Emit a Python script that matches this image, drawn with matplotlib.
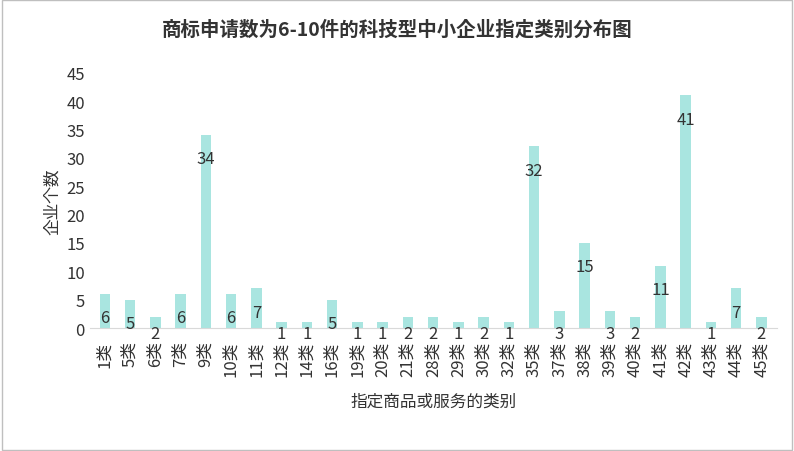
import matplotlib
matplotlib.use("Agg")
import matplotlib.pyplot as plt
from matplotlib.patches import Rectangle
from matplotlib import font_manager

names = {f.name for f in font_manager.fontManager.ttflist}
cands = [n for n in ["Noto Sans CJK SC", "Noto Sans CJK JP", "Noto Sans CJK TC", "Noto Sans CJK KR", "Noto Sans CJK"] if n in names]
if not cands:
    cands = [f.name for f in font_manager.fontManager.ttflist if "CJK" in f.name][:1]
plt.rcParams['font.family'] = cands + ['DejaVu Sans']

categories = ["1类","5类","6类","7类","9类","10类","11类","12类","14类","16类","19类","20类","21类","28类",
              "29类","30类","32类","35类","37类","38类","39类","40类","41类","42类","43类","44类","45类"]
values = [6,5,2,6,34,6,7,1,1,5,1,1,2,2,1,2,1,32,3,15,3,2,11,41,1,7,2]

fig = plt.figure(figsize=(7.94,4.52), dpi=100)
ax = fig.add_axes([0.113, 0.272, 0.865, 0.565])
x = range(len(categories))
ax.bar(x, values, width=0.42, color='#A9E5E0')
for i, v in zip(x, values):
    ax.text(i, max(v - 4.2, -0.9), str(v), ha='center', va='center', fontsize=12, color='#333333')
ax.set_ylim(0, 45)
ax.set_yticks(range(0, 46, 5))
ax.set_xlim(-0.6, len(categories)-0.4)
ax.set_xticks(list(x))
ax.set_xticklabels(categories, rotation=90, fontsize=12, color='#333333')
ax.tick_params(axis='y', labelsize=12, colors='#333333', length=0)
ax.tick_params(axis='x', length=0, pad=9)
for s in ['top','right','left']:
    ax.spines[s].set_visible(False)
ax.spines['bottom'].set_color('#D9D9D9')
ax.set_ylabel('企业个数', fontsize=12, color='#333333')
ax.set_xlabel('指定商品或服务的类别', fontsize=12, color='#333333', labelpad=12)
fig.suptitle('商标申请数为6-10件的科技型中小企业指定类别分布图', fontsize=14, fontweight='bold',
             color='#333333', y=0.955)
fig.patches.append(Rectangle((0.002,0.002),0.996,0.996, transform=fig.transFigure,
                             fill=False, edgecolor='#BFBFBF', linewidth=1))
fig.savefig('out.png', dpi=100)
